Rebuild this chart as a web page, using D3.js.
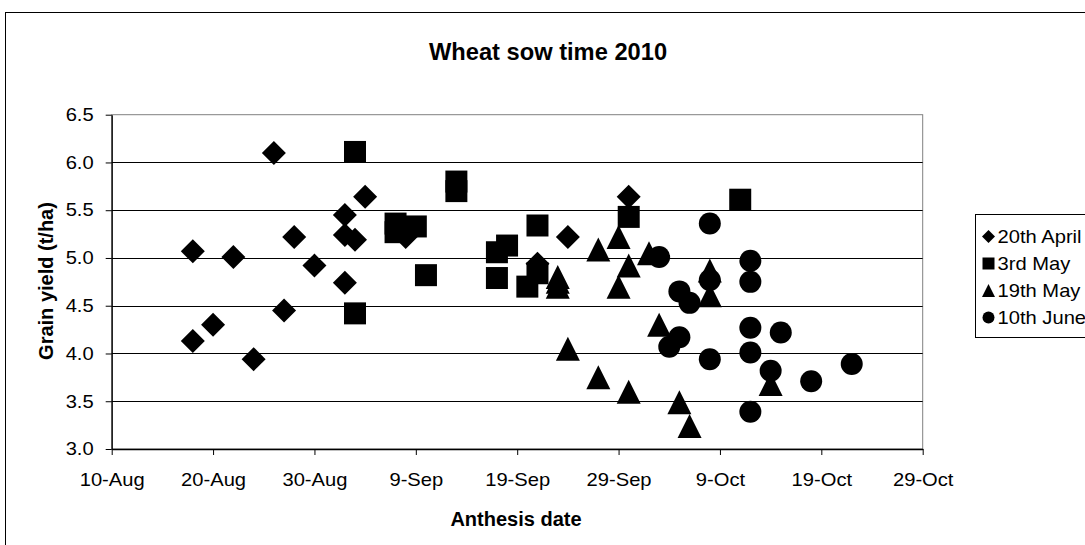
<!DOCTYPE html>
<html>
<head>
  <script src="https://d3js.org/d3.v7.min.js"></script>
  <style>
    body { margin: 0; background: #fff; }
    text { font-family: "Liberation Sans", Arial, sans-serif; fill: #000; }
    .tick text { font-size: 18px; }
    .axis path { stroke: #000; }
    .axis line { stroke: #000; }
    .grid line { stroke: #000; stroke-width: 1; }
  </style>
</head>
<body>
  <svg id="chart" width="1085" height="545"></svg>
  <script>
    // series: anthesis date + grain yield (t/ha)
    var april20Dates = ["2010-08-18","2010-08-22","2010-08-26","2010-08-28","2010-08-30","2010-08-18","2010-08-20","2010-08-24","2010-08-27","2010-09-02","2010-09-02","2010-09-02","2010-09-03","2010-09-04","2010-09-08","2010-09-21","2010-09-24","2010-09-30"];
    var april20Yield = [5.07, 5.01, 6.10, 5.22, 4.92, 4.13, 4.30, 3.94, 4.45, 4.74, 5.45, 5.24, 5.19, 5.64, 5.22, 4.94, 5.22, 5.64];

    var may3Dates = ["2010-09-03","2010-09-13","2010-09-13","2010-09-07","2010-09-07","2010-09-09","2010-09-10","2010-09-17","2010-09-18","2010-09-17","2010-09-21","2010-09-20","2010-09-21","2010-09-03","2010-09-30","2010-10-11"];
    var may3Yield = [6.11, 5.80, 5.70, 5.36, 5.27, 5.33, 4.82, 5.06, 5.13, 4.79, 5.34, 4.70, 4.84, 4.42, 5.43, 5.61];

    var may19Dates = ["2010-09-23","2010-09-23","2010-09-23","2010-09-24","2010-09-27","2010-09-27","2010-09-29","2010-09-29","2010-09-30","2010-10-02","2010-10-08","2010-10-08","2010-10-03","2010-09-30","2010-10-05","2010-10-06","2010-10-14"];
    var may19Yield = [4.80, 4.75, 4.70, 4.05, 3.75, 5.09, 5.22, 4.70, 4.92, 5.05, 4.87, 4.61, 4.30, 3.60, 3.49, 3.24, 3.68];

    var june10Dates = ["2010-10-08","2010-10-03","2010-10-12","2010-10-12","2010-10-08","2010-10-05","2010-10-06","2010-10-05","2010-10-04","2010-10-08","2010-10-12","2010-10-12","2010-10-15","2010-10-14","2010-10-18","2010-10-22","2010-10-12"];
    var june10Yield = [5.36, 5.01, 4.97, 4.75, 4.77, 4.65, 4.53, 4.17, 4.07, 3.94, 4.27, 4.01, 4.22, 3.82, 3.71, 3.89, 3.39];

    var seriesNames = ["20th April", "3rd May", "19th May", "10th June"];
    var xTickDates = ["2010-08-10","2010-08-20","2010-08-30","2010-09-09","2010-09-19","2010-09-29","2010-10-09","2010-10-19","2010-10-29"];
    var yTicks = [3.0, 3.5, 4.0, 4.5, 5.0, 5.5, 6.0, 6.5];

    var parse = d3.timeParse("%Y-%m-%d");
    var fmt = d3.timeFormat("%-d-%b");
    var stretch = 1.12; // excel text is a bit wider than liberation sans

    var plot = { left: 111.7, right: 922.7, top: 114.7, bottom: 449 };

    var svg = d3.select("#chart");

    // chart border (runs off the window on right/bottom)
    svg.append("rect")
      .attr("x", 5.5).attr("y", 12.5)
      .attr("width", 1200).attr("height", 600)
      .attr("fill", "#fff").attr("stroke", "#000");

    var x = d3.scaleTime()
      .domain([parse(xTickDates[0]), parse(xTickDates[xTickDates.length - 1])])
      .range([plot.left, plot.right]);

    var y = d3.scaleLinear()
      .domain([3.0, 6.5])
      .range([plot.bottom, plot.top]);

    // plot area border
    svg.append("rect")
      .attr("x", plot.left).attr("y", plot.top)
      .attr("width", plot.right - plot.left).attr("height", plot.bottom - plot.top)
      .attr("fill", "none").attr("stroke", "#808080");

    // gridlines
    svg.append("g")
      .attr("class", "grid")
      .selectAll("line")
      .data(yTicks.slice(1, -1))
      .enter().append("line")
      .attr("x1", plot.left).attr("x2", plot.right)
      .attr("y1", function(d) { return Math.round(y(d)) + 0.5; })
      .attr("y2", function(d) { return Math.round(y(d)) + 0.5; });

    var yAxis = svg.append("g")
      .attr("class", "axis")
      .attr("transform", "translate(" + plot.left + ",0)")
      .call(d3.axisLeft(y).tickValues(yTicks).tickFormat(d3.format(".1f")).tickSize(6).tickPadding(12).tickSizeOuter(0));
    yAxis.selectAll("text")
      .attr("x", -18 / stretch)
      .attr("transform", "scale(" + stretch + ",1)");

    var xAxis = svg.append("g")
      .attr("class", "axis")
      .attr("transform", "translate(0," + plot.bottom + ")")
      .call(d3.axisBottom(x).tickValues(xTickDates.map(parse)).tickFormat(fmt).tickSize(6).tickPadding(18).tickSizeOuter(0));
    xAxis.selectAll("text")
      .attr("transform", "scale(" + stretch + ",1)");

    svg.selectAll(".axis .domain").attr("stroke-width", 1.3);

    // marker shapes
    function markerPath(type, s) {
      var h = s / 2;
      if (type === 0) return "M0," + (-h) + "L" + h + ",0L0," + h + "L" + (-h) + ",0Z";
      if (type === 1) return "M" + (-h) + "," + (-h) + "H" + h + "V" + h + "H" + (-h) + "Z";
      if (type === 2) return "M0," + (-h) + "L" + h + "," + h + "H" + (-h) + "Z";
      return d3.symbol().type(d3.symbolCircle).size(Math.PI * h * h)();
    }
    var markerSize = [24, 22, 24, 22];
    var legendSize = [13, 12, 13, 12];

    var allSeries = [
      { dates: april20Dates, vals: april20Yield },
      { dates: may3Dates, vals: may3Yield },
      { dates: may19Dates, vals: may19Yield },
      { dates: june10Dates, vals: june10Yield }
    ];

    allSeries.forEach(function(s, i) {
      var pts = s.dates.map(function(d, k) { return { date: parse(d), v: s.vals[k] }; });
      svg.append("g").selectAll("path")
        .data(pts)
        .enter().append("path")
        .attr("d", markerPath(i, markerSize[i]))
        .attr("transform", function(d) { return "translate(" + x(d.date) + "," + y(d.v) + ")"; })
        .attr("fill", "#000");
    });

    // title + axis titles
    svg.append("text")
      .attr("transform", "translate(548,60) scale(1.03,1)")
      .attr("text-anchor", "middle")
      .style("font-size", "23px").style("font-weight", "bold")
      .text("Wheat sow time 2010");

    svg.append("text")
      .attr("x", 516).attr("y", 526)
      .attr("text-anchor", "middle")
      .style("font-size", "20px").style("font-weight", "bold")
      .text("Anthesis date");

    svg.append("text")
      .attr("transform", "translate(53,281) rotate(-90)")
      .attr("text-anchor", "middle")
      .style("font-size", "20px").style("font-weight", "bold")
      .text("Grain yield (t/ha)");

    // legend
    var legend = svg.append("g").attr("transform", "translate(975.5,214.5)");
    legend.append("rect")
      .attr("width", 200).attr("height", 123)
      .attr("fill", "#fff").attr("stroke", "#000");
    var rows = legend.selectAll(".row")
      .data(seriesNames)
      .enter().append("g")
      .attr("transform", function(d, i) { return "translate(0," + (22 + i * 27) + ")"; });
    rows.append("path")
      .attr("d", function(d, i) { return markerPath(i, legendSize[i]); })
      .attr("transform", "translate(13,0)")
      .attr("fill", "#000");
    rows.append("text")
      .attr("transform", "translate(22,6.5) scale(" + stretch + ",1)")
      .style("font-size", "18px")
      .text(function(d) { return d; });
  </script>
</body>
</html>
